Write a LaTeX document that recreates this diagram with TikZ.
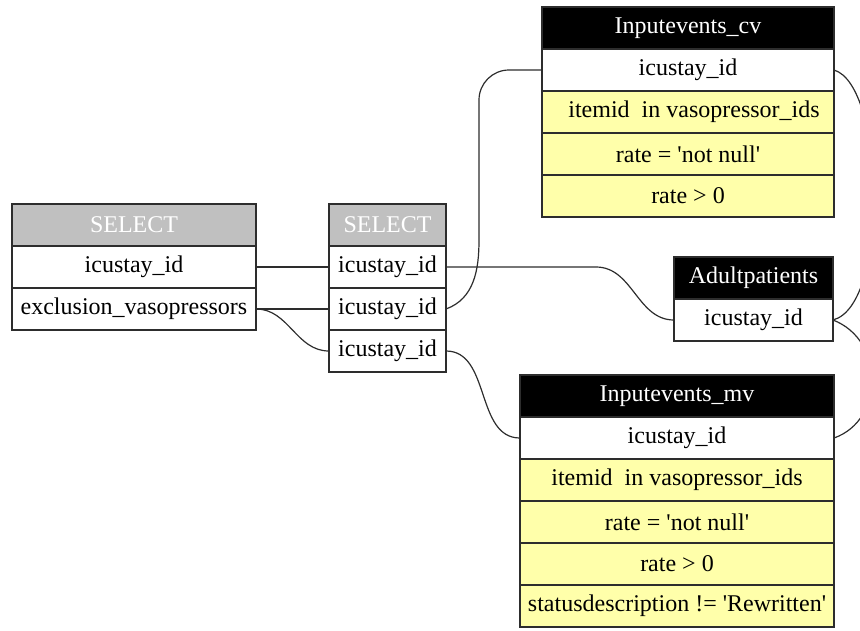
\documentclass[tikz,border=0pt]{standalone}
\usepackage{fontspec}
\setmainfont{Liberation Serif}
\usetikzlibrary{positioning}
\definecolor{condyellow}{RGB}{255,255,170}
\definecolor{hdrgrey}{RGB}{192,192,192}
\definecolor{linegrey}{RGB}{45,45,45}
\newcommand{\squote}{\textquotesingle}
\tikzset{
  cell/.style={draw=linegrey, line width=1.1pt, fill=white, minimum height=42pt,
    inner sep=0pt, outer sep=0pt, font=\fontsize{24}{28}\selectfont},
  cond/.style={cell, fill=condyellow},
  selhead/.style={cell, fill=hdrgrey, text=white},
  tabhead/.style={cell, fill=black, text=white},
  link/.style={draw=linegrey, line width=1.2pt},
}
\begin{document}
\begin{tikzpicture}[x=1pt,y=-1pt]
  \useasboundingbox (0,0) rectangle (860,630);
  \clip (0,0) rectangle (860,630);
  % outer select
  \node[selhead, minimum width=244pt] (s1) at (134,225) {SELECT};
  \node[cell, minimum width=244pt, below=0pt of s1] (s1a) {icustay\_id};
  \node[cell, minimum width=244pt, below=0pt of s1a] (s1b) {exclusion\_vasopressors};
  % inner select
  \node[selhead, minimum width=117pt] (s2) at (387.5,225) {SELECT};
  \node[cell, minimum width=117pt, below=0pt of s2] (s2a) {icustay\_id};
  \node[cell, minimum width=117pt, below=0pt of s2a] (s2b) {icustay\_id};
  \node[cell, minimum width=117pt, below=0pt of s2b] (s2c) {icustay\_id};
  % inputevents_cv
  \node[tabhead, minimum width=292pt] (cv) at (688,28) {Inputevents\_cv};
  \node[cell, minimum width=292pt, below=0pt of cv] (cv1) {icustay\_id};
  \node[cond, minimum width=292pt, below=0pt of cv1] (cv2) {\ \ itemid\ \ in vasopressor\_ids};
  \node[cond, minimum width=292pt, below=0pt of cv2] (cv3) {rate = \squote not null\squote};
  \node[cond, minimum width=292pt, below=0pt of cv3] (cv4) {rate > 0};
  % adultpatients
  \node[tabhead, minimum width=159pt] (ap) at (753.5,278) {Adultpatients};
  \node[cell, minimum width=159pt, below=0pt of ap] (ap1) {icustay\_id};
  % inputevents_mv
  \node[tabhead, minimum width=314pt] (mv) at (677,396) {Inputevents\_mv};
  \node[cell, minimum width=314pt, below=0pt of mv] (mv1) {icustay\_id};
  \node[cond, minimum width=314pt, below=0pt of mv1] (mv2) {itemid\ \ in vasopressor\_ids};
  \node[cond, minimum width=314pt, below=0pt of mv2] (mv3) {rate = \squote not null\squote};
  \node[cond, minimum width=314pt, below=0pt of mv3] (mv4) {rate > 0};
  \node[cond, minimum width=314pt, below=0pt of mv4] (mv5) {statusdescription != \squote Rewritten\squote};
  % joins
  \draw[link] (s1a.east) -- (s2a.west);
  \draw[link] (s1b.east) -- (s2b.west);
  \draw[link] (s1b.east) to[out=0,in=180] (s2c.west);
  \draw[link] (s2a.east) -- ++(150,0) to[out=0,in=180] (ap1.west);
  \draw[link] (s2b.east) to[out=20,in=-90] (479,240) [rounded corners=30pt] |- (cv1.west);
  \draw[link] (s2c.east) to[out=0,in=180] (mv1.west);
  \draw[link] (cv1.east) .. controls (885,85) and (890,305) .. (ap1.east);
  \draw[link] (ap1.east) .. controls (885,340) and (885,420) .. (mv1.east);
\end{tikzpicture}
\end{document}
